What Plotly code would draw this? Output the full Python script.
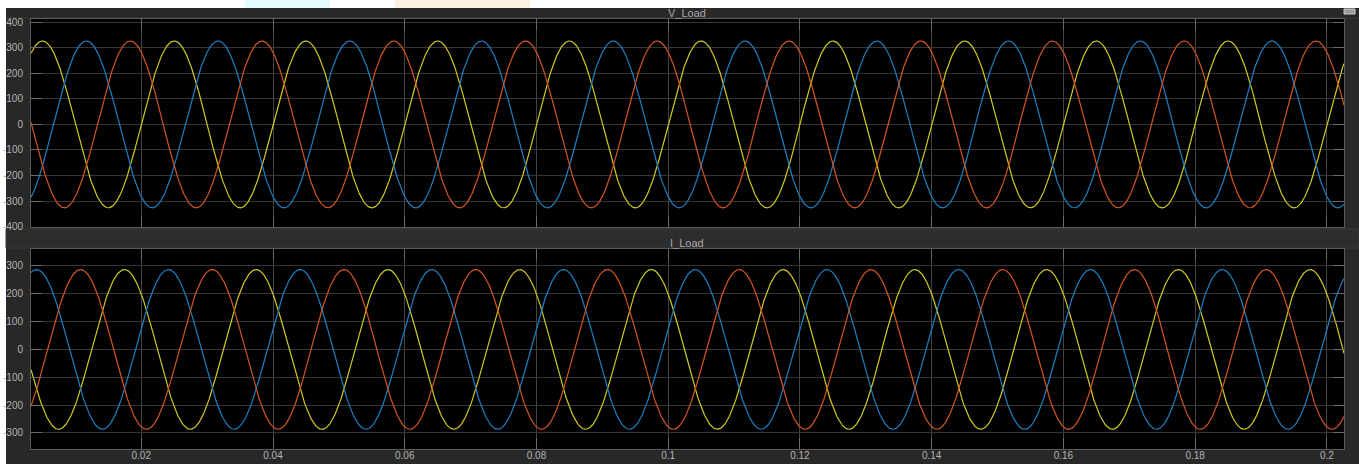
import numpy as np
import plotly.graph_objects as go
from plotly.subplots import make_subplots

# ---- data (three-phase scope traces, 50 Hz) ----
phase_names = ["Phase A", "Phase B", "Phase C"]
phase_colors = ["#d2ca1c", "#1c80c4", "#d5561e"]     # yellow, blue, orange
freq_hz = 50.0
t_start, t_end = 0.00326, 0.2026
v_amplitude = [326, 326, 326]          # V_Load peak values
v_phase_deg = [0, -120, 120]
i_amplitude = [287, 287, 287]          # I_Load peak values
i_phase_deg = [136, 16, -104]          # yellow, blue, orange

v_ticks = [-400, -300, -200, -100, 0, 100, 200, 300, 400]
i_ticks = [-300, -200, -100, 0, 100, 200, 300]
x_ticks = [0.02, 0.04, 0.06, 0.08, 0.1, 0.12, 0.14, 0.16, 0.18, 0.2]
x_ticklabels = ["0.02", "0.04", "0.06", "0.08", "0.1", "0.12", "0.14", "0.16", "0.18", "0.2"]

t = np.linspace(t_start, t_end, 2400)

fig = make_subplots(rows=2, cols=1, shared_xaxes=False, vertical_spacing=0.0)

for name, col, a, ph in zip(phase_names, phase_colors, v_amplitude, v_phase_deg):
    fig.add_trace(go.Scatter(x=t, y=a * np.sin(2 * np.pi * freq_hz * t + np.deg2rad(ph)),
                             mode="lines", line=dict(color=col, width=1.2),
                             name=name, showlegend=False, hoverinfo="skip"), row=1, col=1)
for name, col, a, ph in zip(phase_names, phase_colors, i_amplitude, i_phase_deg):
    fig.add_trace(go.Scatter(x=t, y=a * np.sin(2 * np.pi * freq_hz * t + np.deg2rad(ph)),
                             mode="lines", line=dict(color=col, width=1.2),
                             name=name, showlegend=False, hoverinfo="skip"), row=2, col=1)

W, H = 1359, 464
ML, MR, MT, MB = 31, 15, 19, 15
PH = H - MT - MB  # 430

def py(px):  # pixel y (from top) -> paper y
    return 1 - (px - MT) / PH

def px_(x):  # pixel x -> paper x
    return (x - ML) / (W - ML - MR)

tick_font = dict(family="Liberation Sans, Arial", size=10, color="#b4b4b4")
axis_common = dict(showgrid=True, gridwidth=1, automargin=False,
                   showline=True, linecolor="#5a5a5a", linewidth=1, mirror="ticks",
                   ticks="inside", ticklen=11, tickcolor="#6a6a6a", tickwidth=1,
                   zeroline=False, tickfont=tick_font, fixedrange=True)

fig.update_layout(
    width=W, height=H, autosize=False,
    margin=dict(l=ML, r=MR, t=MT, b=MB, pad=0, autoexpand=False),
    paper_bgcolor="#282828",
    plot_bgcolor="#000000",
    showlegend=False,
    xaxis=dict(domain=[0, 1], range=[t_start, t_end], tickvals=x_ticks,
               ticktext=x_ticklabels, showticklabels=False, anchor="y",
               gridcolor="#444444", **axis_common),
    xaxis2=dict(domain=[0, 1], range=[t_start, t_end], tickvals=x_ticks,
                ticktext=x_ticklabels, showticklabels=True, anchor="y2",
                gridcolor="#444444", ticklabelstandoff=-3, **axis_common),
    yaxis=dict(domain=[py(227), 1], range=[-401, 412], tickvals=v_ticks,
               ticktext=[str(v) for v in v_ticks], anchor="x", ticklabelstandoff=5,
               gridcolor="#353535", **axis_common),
    yaxis2=dict(domain=[0, py(249)], range=[-358, 361], tickvals=i_ticks,
                ticktext=[str(v) for v in i_ticks], anchor="x2", ticklabelstandoff=5,
                gridcolor="#353535", **axis_common),
)

shapes = []
# white band at top of window with faint watermark tints
shapes.append(dict(type="rect", xref="paper", yref="paper", x0=px_(0), x1=px_(W),
                   y0=py(8), y1=py(-1), fillcolor="#ffffff", line=dict(width=0), layer="below"))
shapes.append(dict(type="rect", xref="paper", yref="paper", x0=px_(395), x1=px_(530),
                   y0=py(8), y1=py(-1), fillcolor="#fdf0e2", line=dict(width=0), layer="below"))
shapes.append(dict(type="rect", xref="paper", yref="paper", x0=px_(245), x1=px_(330),
                   y0=py(8), y1=py(-1), fillcolor="#e6fbfd", line=dict(width=0), layer="below"))
# white strip at left edge
shapes.append(dict(type="rect", xref="paper", yref="paper", x0=px_(-1), x1=px_(6),
                   y0=py(H + 1), y1=py(8), fillcolor="#ffffff", line=dict(width=0), layer="below"))
# title bar between plots
shapes.append(dict(type="rect", xref="paper", yref="paper", x0=px_(6), x1=px_(W),
                   y0=py(248), y1=py(229), fillcolor="#2d2d2d",
                   line=dict(width=1, color="#3a3a3a"), layer="below"))
# top title bar line
shapes.append(dict(type="line", xref="paper", yref="paper", x0=px_(6), x1=px_(W),
                   y0=py(18), y1=py(18), line=dict(width=1, color="#3a3a3a"), layer="below"))
# small icon at top right
shapes.append(dict(type="rect", xref="paper", yref="paper", x0=px_(1344), x1=px_(1355),
                   y0=py(14), y1=py(9), fillcolor="#9a9a9a", line=dict(width=1, color="#d0d0d0"),
                   layer="above"))
fig.update_layout(shapes=shapes)

title_font = dict(family="Liberation Sans, Arial", size=11, color="#a8a8a8")
fig.add_annotation(text="V_Load", xref="paper", yref="paper", x=px_(687), y=py(13),
                   showarrow=False, font=title_font, xanchor="center", yanchor="middle")
fig.add_annotation(text="I_Load", xref="paper", yref="paper", x=px_(687), y=py(243),
                   showarrow=False, font=title_font, xanchor="center", yanchor="middle")

fig.write_html("out.html", config={"displayModeBar": False})
